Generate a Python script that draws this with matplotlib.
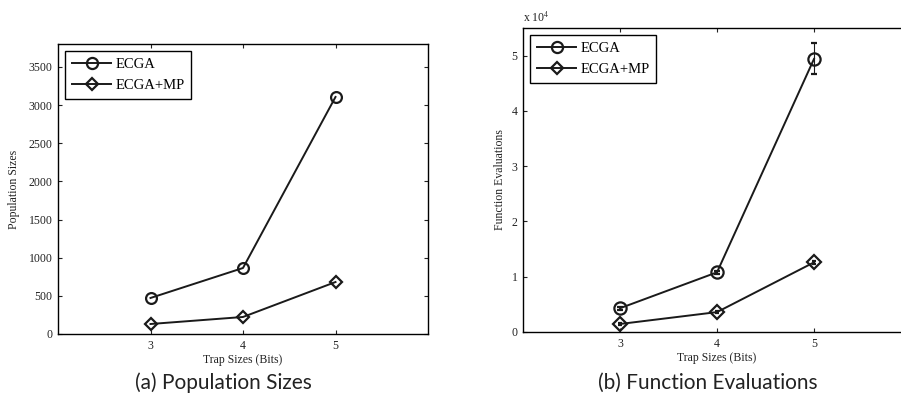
import matplotlib
matplotlib.use("Agg")
import matplotlib.pyplot as plt
from matplotlib.ticker import FuncFormatter
from matplotlib.lines import Line2D

trap_sizes = [3, 4, 5]
pop_ecga = [472, 865, 3106]
pop_ecga_mp = [131, 223, 681]
fe_ecga = [4300, 10800, 49400]
fe_ecga_err = [300, 300, 2800]
fe_ecga_mp = [1450, 3600, 12600]
fe_ecga_mp_err = [150, 200, 300]
series_labels = ["ECGA", "ECGA+MP"]

plt.rcParams['font.family'] = ['Liberation Serif', 'DejaVu Serif']
plt.rcParams['mathtext.fontset'] = 'stix'

fig = plt.figure(figsize=(9.01, 4.04), dpi=100)

ax1 = fig.add_axes([58/901, 1-334/404, (428-58)/901, (334-44)/404])
ax2 = fig.add_axes([523/901, 1-332/404, (911-523)/901, (332-28)/404])

lw = 1.4
col = '#1a1a1a'
for ax in (ax1, ax2):
    for sp in ax.spines.values():
        sp.set_linewidth(1.0)
        sp.set_color('black')
    ax.tick_params(direction='in', top=True, right=True, labelsize=8.5, length=3,
                   width=0.8, pad=4, colors='#222222')
    ax.set_xlim(2, 6)
    ax.set_xticks(trap_sizes)
    ax.set_xlabel("Trap Sizes (Bits)", fontsize=8.5, labelpad=2, color='#222222')

ax1.plot(trap_sizes, pop_ecga, '-o', color=col, lw=lw, ms=7.8, mfc='none', mew=1.6)
ax1.plot(trap_sizes, pop_ecga_mp, '-D', color=col, lw=lw, ms=6.3, mfc='none', mew=1.6)
ax1.set_ylim(0, 3800)
ax1.set_yticks(range(0, 3501, 500))
ax1.set_ylabel("Population Sizes", fontsize=8.5, labelpad=6, color='#222222')

ax2.errorbar(trap_sizes, fe_ecga, yerr=fe_ecga_err, fmt='-o', color=col, lw=lw, ms=8.8,
             mfc='none', mew=1.6, elinewidth=0.8, capsize=2, capthick=0.8)
ax2.errorbar(trap_sizes, fe_ecga_mp, yerr=fe_ecga_mp_err, fmt='-D', color=col, lw=lw,
             ms=6.8, mfc='none', mew=1.6, elinewidth=0.8, capsize=1.5, capthick=0.8)
ax2.set_ylim(0, 55000)
ax2.set_yticks(range(0, 50001, 10000))
ax2.yaxis.set_major_formatter(FuncFormatter(lambda v, p: f"{v/1e4:g}"))
ax2.set_ylabel("Function Evaluations", fontsize=8.5, labelpad=4, color='#222222')
ax2.text(0.0, 1.01, r"x 10$^4$", transform=ax2.transAxes, fontsize=8.5, ha='left',
         va='bottom', color='#222222')

for ax in (ax1, ax2):
    handles = [Line2D([], [], color=col, lw=lw, marker='o', ms=8, mfc='none', mew=1.6),
               Line2D([], [], color=col, lw=lw, marker='D', ms=6.5, mfc='none', mew=1.6)]
    leg = ax.legend(handles, series_labels, loc='upper left', fontsize=10.5, fancybox=False,
                    framealpha=1, edgecolor='black', borderpad=0.45, handlelength=2.7,
                    labelspacing=0.55, borderaxespad=0.5, handletextpad=0.3)
    leg.get_frame().set_linewidth(1.0)

fig.text(223/901, 1-383/404, "(a) Population Sizes", fontsize=15, ha='center', va='center',
         family=['Lato', 'DejaVu Sans'], color='#222222')
fig.text(708/901, 1-383/404, "(b) Function Evaluations", fontsize=15, ha='center', va='center',
         family=['Lato', 'DejaVu Sans'], color='#222222')

fig.savefig("out.png", dpi=100)
